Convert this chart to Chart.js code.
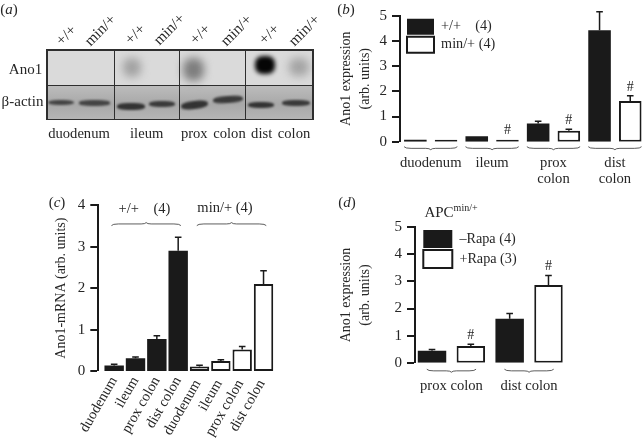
<!DOCTYPE html>
<html><head><meta charset="utf-8">
<script src="https://cdn.jsdelivr.net/npm/chart.js@4"></script>
<style>
html,body{margin:0;padding:0;background:#fff;width:642px;height:438px;overflow:hidden}
#page{position:absolute;left:0;top:0;width:642px;height:438px;overflow:hidden;filter:blur(0.3px)}
canvas{position:absolute}
.t{position:absolute;font-family:"Liberation Serif",serif;font-size:14px;color:#262626;white-space:pre;line-height:16px;transform:translate(-50%,-50%)}
.t sup{font-size:10px;line-height:0;vertical-align:6px}
.blot{position:absolute;overflow:hidden;box-sizing:border-box}
.band{position:absolute}
</style></head><body><div id="page"></div>
<script>
// ---------- panel (b) ----------
const bGroups = ["duodenum", "ileum", ["prox", "colon"], ["dist", "colon"]];
const bWildValues = [0.02, 0.22, 0.72, 4.42];
const bWildTops = [null, null, 0.81, 5.16];
const bMinValues = [0.02, 0.08, 0.43, 1.62];
const bMinTops = [null, null, 0.49, 1.82];
const bMinHash = [false, true, true, true];
const bWildName = "+/+    (4)";
const bMinName = "min/+ (4)";
// ---------- panel (c) ----------
const cCategories = ["duodenum", "ileum", "prox colon", "dist colon", "duodenum ", "ileum ", "prox colon ", "dist colon "];
const cWildValues = [0.13, 0.31, 0.77, 2.9, null, null, null, null];
const cWildTops = [0.16, 0.34, 0.85, 3.23, null, null, null, null];
const cMinValues = [null, null, null, null, 0.11, 0.24, 0.52, 2.1];
const cMinTops = [null, null, null, null, 0.14, 0.27, 0.59, 2.42];
// ---------- panel (d) ----------
const dGroups = ["prox colon", "dist colon"];
const dMinusValues = [0.44, 1.62];
const dMinusTops = [0.49, 1.82];
const dPlusValues = [0.62, 2.87];
const dPlusTops = [0.68, 3.22];
const dPlusHash = [true, true];
const dMinusName = "\u2013Rapa (4)";
const dPlusName = "+Rapa (3)";
// ---------- panel (a) ----------
const aLanes = ["+/+", "min/+", "+/+", "min/+", "+/+", "min/+", "+/+", "min/+"];
const aTissues = ["duodenum", "ileum", "prox colon", "dist colon"];

const FONT = '"Liberation Serif", serif';
const INK = '#1a1a1a', TXT = '#262626';
const page = document.getElementById('page');

function text(x, y, html, extra) {
  const d = document.createElement('div');
  d.className = 't';
  d.innerHTML = html;
  d.style.left = x + 'px'; d.style.top = y + 'px';
  if (extra) Object.assign(d.style, extra);
  page.appendChild(d);
}

const errorBars = {
  id: 'errorBars',
  afterDatasetsDraw(chart) {
    const ctx = chart.ctx, y = chart.scales.y;
    chart.data.datasets.forEach((ds, di) => {
      const els = chart.getDatasetMeta(di).data;
      els.forEach((el, i) => {
        const top = ds.errTop && ds.errTop[i];
        const v = ds.data[i];
        if (v == null) return;
        let yTop = y.getPixelForValue(v);
        if (top != null) {
          yTop = y.getPixelForValue(top);
          const yv = y.getPixelForValue(v);
          ctx.save();
          ctx.strokeStyle = INK; ctx.lineWidth = 1.5;
          ctx.beginPath();
          ctx.moveTo(el.x, yv); ctx.lineTo(el.x, yTop);
          ctx.moveTo(el.x - 3.3, yTop); ctx.lineTo(el.x + 3.3, yTop);
          ctx.stroke();
          ctx.restore();
        }
        if (ds.hash && ds.hash[i]) {
          ctx.save();
          ctx.fillStyle = TXT; ctx.font = '14px ' + FONT;
          ctx.textAlign = 'center'; ctx.textBaseline = 'middle';
          ctx.fillText('#', el.x, yTop - 9);
          ctx.restore();
        }
      });
    });
  }
};

function brace(ctx, x1, x2, y, h, dir) {
  const cx = (x1 + x2) / 2, m = y + dir * h * 0.55, p = y + dir * h;
  ctx.beginPath();
  ctx.moveTo(x1, y);
  ctx.quadraticCurveTo(x1 + 1, m, x1 + 7, m);
  ctx.lineTo(cx - 5, m);
  ctx.quadraticCurveTo(cx - 1, m, cx, p);
  ctx.quadraticCurveTo(cx + 1, m, cx + 5, m);
  ctx.lineTo(x2 - 7, m);
  ctx.quadraticCurveTo(x2 - 1, m, x2, y);
  ctx.stroke();
}
const braces = {
  id: 'braces',
  afterDatasetsDraw(chart, args, o) {
    if (!o.spans) return;
    const ctx = chart.ctx;
    ctx.save();
    ctx.strokeStyle = '#333'; ctx.lineWidth = 0.8;
    o.spans.forEach(s => {
      const a = chart.getDatasetMeta(s[0]).data[s[1]];
      const b = chart.getDatasetMeta(s[2]).data[s[3]];
      const ya = o.value != null ? chart.scales.y.getPixelForValue(o.value) : chart.chartArea.bottom + o.gap;
      brace(ctx, a.x - a.width / 2 + (o.inset || 0), b.x + b.width / 2 - (o.inset || 0), ya, o.h, o.dir);
    });
    ctx.restore();
  }
};

const nudge = {
  id: 'nudge',
  afterLayout(chart, args, o) {
    const y = chart.scales.y;
    if (o.axis) { y.left += o.axis; y.right += o.axis; }
    if (o.legendX != null && chart.legend) {
      chart.legend.left = chart.chartArea.left + o.legendX;
      chart.legend.top = chart.chartArea.top + o.legendY;
      chart.legend.right = chart.chartArea.right;
      chart.legend.bottom = chart.chartArea.bottom;
    }
  }
};

function makeChart(cfg) {
  const cv = document.createElement('canvas');
  cv.width = cfg.w; cv.height = cfg.h;
  cv.style.left = cfg.x + 'px'; cv.style.top = cfg.y + 'px';
  cv.style.width = cfg.w + 'px'; cv.style.height = cfg.h + 'px';
  page.appendChild(cv);
  return new Chart(cv, {
    type: 'bar',
    data: { labels: cfg.labels, datasets: cfg.datasets },
    plugins: [errorBars, braces, nudge],
    options: {
      responsive: false, animation: false, devicePixelRatio: 1,
      layout: { padding: { top: cfg.T, right: cfg.R, left: 0, bottom: 0 } },
      plugins: {
        tooltip: { enabled: false },
        legend: cfg.legend || { display: false },
        braces: cfg.braces, nudge: cfg.nudge
      },
      scales: {
        x: {
          grid: { display: false, drawTicks: false }, border: { display: false },
          ticks: Object.assign({ color: TXT, font: { family: FONT, size: cfg.xSize, lineHeight: 16 / cfg.xSize }, autoSkip: false }, cfg.xTicks),
          afterFit(s) { s.height = cfg.H; }
        },
        y: {
          min: 0, max: cfg.max,
          grid: { drawOnChartArea: false, drawTicks: true, tickLength: 8, lineWidth: 0, tickWidth: 2, tickColor: INK, color: INK },
          border: { display: true, color: INK, width: 2 },
          ticks: { stepSize: 1, color: TXT, padding: 5, font: { family: FONT, size: 15 } },
          title: { display: true, text: cfg.title, color: TXT, font: { family: FONT, size: 14, lineHeight: 19 / 14 }, padding: { top: cfg.titlePad, bottom: 0 } },
          afterFit(s) { s.width = cfg.W; }
        }
      }
    }
  });
}
const bar = { borderSkipped: false, inflateAmount: 0, borderColor: INK };
const dark = (label, data, tops, hash) => Object.assign({ label, data, errTop: tops, hash, backgroundColor: INK, borderWidth: 0 }, bar);
const light = (label, data, tops, hash) => Object.assign({ label, data, errTop: tops, hash, backgroundColor: '#fff', borderWidth: 2 }, bar);

// (b)
makeChart({
  x: 330, y: 0, w: 320, h: 190, T: 15.7, R: 4.4, W: 70, H: 48.3, max: 5, xSize: 14.6, titlePad: 6.5,
  labels: bGroups,
  title: ['Ano1 expression', '(arb. units)'],
  xTicks: { padding: 13, maxRotation: 0, minRotation: 0 },
  datasets: [dark(bWildName, bWildValues, bWildTops), light(bMinName, bMinValues, bMinTops, bMinHash)]
    .map(d => Object.assign(d, { categoryPercentage: 1, barPercentage: 0.735, minBarLength: 2 })),
  legend: { display: true, position: 'chartArea', align: 'start',
    labels: { boxWidth: 27, boxHeight: 16, padding: 2, color: TXT, font: { family: FONT, size: 14.2 } } },
  braces: { spans: [[0,0,1,0],[0,1,1,1],[0,2,1,2],[0,3,1,3]], gap: 5, h: 3, dir: 1 },
  nudge: { legendX: 5, legendY: 1 }
});

// (c)
makeChart({
  x: 0, y: 185, w: 320, h: 253, T: 20.3, R: 45.8, W: 103.5, H: 67, max: 4, xSize: 14.5, titlePad: 57.4,
  labels: cCategories,
  title: 'Ano1-mRNA (arb. units)',
  xTicks: { padding: 3, maxRotation: 60, minRotation: 60 },
  datasets: [dark('+/+', cWildValues, cWildTops), light('min/+', cMinValues, cMinTops)]
    .map(d => Object.assign(d, { grouped: false, categoryPercentage: 1, barPercentage: 0.91 })),
  braces: { spans: [[0,0,0,3],[1,4,1,7]], value: 3.51, h: 3, dir: -1, inset: 7 },
  nudge: { axis: -5.2 }
});

// (d)
makeChart({
  x: 330, y: 190, w: 312, h: 210, T: 37.3, R: 74.1, W: 82.6, H: 37.3, max: 5, xSize: 14.6, titlePad: 4,
  labels: dGroups,
  title: ['Ano1 expression', '(arb. units)'],
  xTicks: { padding: 15, maxRotation: 0, minRotation: 0 },
  datasets: [dark(dMinusName, dMinusValues, dMinusTops), light(dPlusName, dPlusValues, dPlusTops, dPlusHash)]
    .map(d => Object.assign(d, { categoryPercentage: 1, barPercentage: 0.733 })),
  legend: { display: true, position: 'chartArea', align: 'start',
    labels: { boxWidth: 29, boxHeight: 18, padding: 2, color: TXT, font: { family: FONT, size: 14.2 } } },
  braces: { spans: [[0,0,1,0],[0,1,1,1]], gap: 6.5, h: 3, dir: 1, inset: 9 },
  nudge: { axis: 2.4, legendX: 8.7, legendY: 0.7 }
});

text(9, 9, '(<i>a</i>)', { fontSize: '15px' });
text(346, 9, '(<i>b</i>)', { fontSize: '15px' });
text(57, 202, '(<i>c</i>)', { fontSize: '15px' });
text(347, 202, '(<i>d</i>)', { fontSize: '15px' });
text(144.5, 208, '+/+    (4)', { fontSize: '14.5px' });
text(225, 207, 'min/+ (4)', { fontSize: '14.5px' });
text(451, 212, 'APC<sup>min/+</sup>', { fontSize: '15px' });

// (a) blot
const frame = { x: 46, y: 49, w: 267, h: 71 };
const blot = document.createElement('div');
blot.className = 'blot';
Object.assign(blot.style, { left: frame.x + 'px', top: frame.y + 'px', width: frame.w + 'px', height: frame.h + 'px', background: '#dadada' });
page.appendChild(blot);
const low = document.createElement('div');
low.className = 'band';
Object.assign(low.style, { left: '0', top: '36px', width: '100%', height: '35px', background: 'linear-gradient(#bdbdbd,#a8a8a8 55%,#b6b6b6)' });
blot.appendChild(low);
// [x0, x1, y0, y1, colour, blur, angle]
const bands = [
  [48,74,99.5,105,'#444',1,0],[79,110,100,105.5,'#444',1,0],[117,145,102.5,109.5,'#333',1,0],[149,175,101,107,'#3a3a3a',1,0],
  [181,208,100.5,108.5,'#333',1,-7],[213,243,95.5,102.5,'#3a3a3a',1,-4],[248,274,101.5,107.5,'#333',1,0],[282,310,100,106,'#3a3a3a',1,0],
  [123,141,58,77,'#a2a2a2',4,0],[183,204,58,81,'#7d7d7d',4,0],[255,275,56,74,'#050505',2.2,0],[289,309,58,76,'#a4a4a4',4,0]
];
bands.forEach(b => {
  const d = document.createElement('div');
  d.className = 'band';
  Object.assign(d.style, { left: (b[0]-frame.x)+'px', top: (b[2]-frame.y)+'px', width: (b[1]-b[0])+'px', height: (b[3]-b[2])+'px',
    background: b[4], borderRadius: '40%', filter: 'blur('+b[5]+'px)', transform: 'rotate('+b[6]+'deg)' });
  blot.appendChild(d);
});
const rule = (x,y,w,h) => { const d = document.createElement('div'); d.className='band';
  Object.assign(d.style,{left:x+'px',top:y+'px',width:w+'px',height:h+'px',background:'#2e2e2e'}); page.appendChild(d); };
rule(46,49,267,1.5); rule(46,84.5,267,1.5); rule(46,118.5,267,1.5);
[46,113.5,178.5,244.5,312].forEach(x => rule(x,49,1.5,71));

const laneX = [66,100,135,169,200,236,269,304], laneY = [35,30,34,29,34,30,34,30];
aLanes.forEach((s,i) => text(laneX[i], laneY[i], s, { fontSize:'15.5px', transform: 'translate(-50%,-50%) rotate(-45deg)' }));
const tissueX = [79,146.7,213.3,280.7];
aTissues.forEach((s,i) => text(tissueX[i], 133, s, { fontSize:'14.6px', wordSpacing:'2px' }));
text(25.5, 69, 'Ano1', { fontSize: '15px' });
text(22.5, 100.5, '\u03b2-actin', { fontSize: '15px' });
</script></body></html>
